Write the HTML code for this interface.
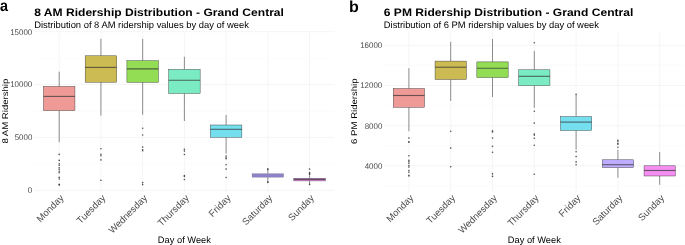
<!DOCTYPE html>
<html><head><meta charset="utf-8"><title>Ridership Distribution</title>
<style>
html,body{margin:0;padding:0;background:#fff;}
body{width:685px;height:245px;overflow:hidden;}
svg{display:block;font-family:"Liberation Sans", sans-serif;will-change:transform;text-rendering:geometricPrecision;}
</style></head><body>
<svg width="685" height="245" viewBox="0 0 685 245">
<rect width="685" height="245" fill="#fff"/>
<line x1="34.2" x2="334.6" y1="163.9" y2="163.9" stroke="#F7F7F7" stroke-width="0.55"/>
<line x1="34.2" x2="334.6" y1="110.95" y2="110.95" stroke="#F7F7F7" stroke-width="0.55"/>
<line x1="34.2" x2="334.6" y1="58.05" y2="58.05" stroke="#F7F7F7" stroke-width="0.55"/>
<line x1="34.2" x2="334.6" y1="190.4" y2="190.4" stroke="#F5F5F5" stroke-width="1.0"/>
<line x1="34.2" x2="334.6" y1="137.4" y2="137.4" stroke="#F5F5F5" stroke-width="1.0"/>
<line x1="34.2" x2="334.6" y1="84.5" y2="84.5" stroke="#F5F5F5" stroke-width="1.0"/>
<line x1="34.2" x2="334.6" y1="31.7" y2="31.7" stroke="#F5F5F5" stroke-width="1.0"/>
<line x1="59.20" x2="59.20" y1="31.4" y2="191.9" stroke="#F5F5F5" stroke-width="1.0"/>
<line x1="100.93" x2="100.93" y1="31.4" y2="191.9" stroke="#F5F5F5" stroke-width="1.0"/>
<line x1="142.66" x2="142.66" y1="31.4" y2="191.9" stroke="#F5F5F5" stroke-width="1.0"/>
<line x1="184.39" x2="184.39" y1="31.4" y2="191.9" stroke="#F5F5F5" stroke-width="1.0"/>
<line x1="226.12" x2="226.12" y1="31.4" y2="191.9" stroke="#F5F5F5" stroke-width="1.0"/>
<line x1="267.85" x2="267.85" y1="31.4" y2="191.9" stroke="#F5F5F5" stroke-width="1.0"/>
<line x1="309.58" x2="309.58" y1="31.4" y2="191.9" stroke="#F5F5F5" stroke-width="1.0"/>
<text transform="translate(32.3,193.30) scale(0.97,1)" text-anchor="end" font-size="8.2" fill="#4D4D4D">0</text>
<text transform="translate(32.3,140.30) scale(0.97,1)" text-anchor="end" font-size="8.2" fill="#4D4D4D">5000</text>
<text transform="translate(32.3,87.40) scale(0.97,1)" text-anchor="end" font-size="8.2" fill="#4D4D4D">10000</text>
<text transform="translate(32.3,34.60) scale(0.97,1)" text-anchor="end" font-size="8.2" fill="#4D4D4D">15000</text>
<line x1="59.20" x2="59.20" y1="71.7" y2="86.4" stroke="#333" stroke-width="0.55"/>
<line x1="59.20" x2="59.20" y1="110.6" y2="142.2" stroke="#333" stroke-width="0.55"/>
<rect x="43.45" y="86.4" width="31.5" height="24.20" fill="#EF9A97" stroke="#333" stroke-width="0.42"/>
<line x1="43.45" x2="74.95" y1="96.4" y2="96.4" stroke="#333" stroke-opacity="0.72" stroke-width="1.1"/>
<circle cx="59.20" cy="154.4" r="0.8" fill="#333" fill-opacity="0.85"/>
<circle cx="59.20" cy="160.4" r="0.8" fill="#333" fill-opacity="0.85"/>
<circle cx="59.20" cy="163.8" r="0.8" fill="#333" fill-opacity="0.85"/>
<circle cx="59.20" cy="165.2" r="0.8" fill="#333" fill-opacity="0.85"/>
<circle cx="59.20" cy="167.8" r="0.8" fill="#333" fill-opacity="0.85"/>
<circle cx="59.20" cy="169.2" r="0.8" fill="#333" fill-opacity="0.85"/>
<circle cx="59.20" cy="171.2" r="0.8" fill="#333" fill-opacity="0.85"/>
<circle cx="59.20" cy="172.8" r="0.8" fill="#333" fill-opacity="0.85"/>
<circle cx="59.20" cy="177.4" r="0.8" fill="#333" fill-opacity="0.85"/>
<circle cx="59.20" cy="179.0" r="0.8" fill="#333" fill-opacity="0.85"/>
<circle cx="59.20" cy="184.4" r="0.8" fill="#333" fill-opacity="0.85"/>
<circle cx="59.20" cy="185.1" r="0.8" fill="#333" fill-opacity="0.85"/>
<line x1="100.93" x2="100.93" y1="38.8" y2="55.8" stroke="#333" stroke-width="0.55"/>
<line x1="100.93" x2="100.93" y1="82.2" y2="115.7" stroke="#333" stroke-width="0.55"/>
<rect x="85.18" y="55.8" width="31.5" height="26.40" fill="#CCBB53" stroke="#333" stroke-width="0.42"/>
<line x1="85.18" x2="116.68" y1="67.4" y2="67.4" stroke="#333" stroke-opacity="0.72" stroke-width="1.1"/>
<circle cx="100.93" cy="148.7" r="0.8" fill="#333" fill-opacity="0.85"/>
<circle cx="100.93" cy="154.3" r="0.8" fill="#333" fill-opacity="0.85"/>
<circle cx="100.93" cy="155.8" r="0.8" fill="#333" fill-opacity="0.85"/>
<circle cx="100.93" cy="159.9" r="0.8" fill="#333" fill-opacity="0.85"/>
<circle cx="100.93" cy="180.2" r="0.8" fill="#333" fill-opacity="0.85"/>
<line x1="142.66" x2="142.66" y1="39.0" y2="60.7" stroke="#333" stroke-width="0.55"/>
<line x1="142.66" x2="142.66" y1="82.3" y2="114.8" stroke="#333" stroke-width="0.55"/>
<rect x="126.91" y="60.7" width="31.5" height="21.60" fill="#92DD53" stroke="#333" stroke-width="0.42"/>
<line x1="126.91" x2="158.41" y1="68.9" y2="68.9" stroke="#333" stroke-opacity="0.72" stroke-width="1.1"/>
<circle cx="142.66" cy="128.3" r="0.8" fill="#333" fill-opacity="0.85"/>
<circle cx="142.66" cy="135.0" r="0.8" fill="#333" fill-opacity="0.85"/>
<circle cx="142.66" cy="147.1" r="0.8" fill="#333" fill-opacity="0.85"/>
<circle cx="142.66" cy="149.8" r="0.8" fill="#333" fill-opacity="0.85"/>
<circle cx="142.66" cy="150.8" r="0.8" fill="#333" fill-opacity="0.85"/>
<circle cx="142.66" cy="182.6" r="0.8" fill="#333" fill-opacity="0.85"/>
<circle cx="142.66" cy="184.6" r="0.8" fill="#333" fill-opacity="0.85"/>
<line x1="184.39" x2="184.39" y1="56.8" y2="69.4" stroke="#333" stroke-width="0.55"/>
<line x1="184.39" x2="184.39" y1="93.4" y2="121.0" stroke="#333" stroke-width="0.55"/>
<rect x="168.64" y="69.4" width="31.5" height="24.00" fill="#7AEBC3" stroke="#333" stroke-width="0.42"/>
<line x1="168.64" x2="200.14" y1="80.3" y2="80.3" stroke="#333" stroke-opacity="0.72" stroke-width="1.1"/>
<circle cx="184.39" cy="149.3" r="0.8" fill="#333" fill-opacity="0.85"/>
<circle cx="184.39" cy="151.1" r="0.8" fill="#333" fill-opacity="0.85"/>
<circle cx="184.39" cy="154.5" r="0.8" fill="#333" fill-opacity="0.85"/>
<circle cx="184.39" cy="175.5" r="0.8" fill="#333" fill-opacity="0.85"/>
<circle cx="184.39" cy="176.5" r="0.8" fill="#333" fill-opacity="0.85"/>
<circle cx="184.39" cy="179.5" r="0.8" fill="#333" fill-opacity="0.85"/>
<line x1="226.12" x2="226.12" y1="115.0" y2="125.0" stroke="#333" stroke-width="0.55"/>
<line x1="226.12" x2="226.12" y1="137.3" y2="153.6" stroke="#333" stroke-width="0.55"/>
<rect x="210.37" y="125.0" width="31.5" height="12.30" fill="#75DFF0" stroke="#333" stroke-width="0.42"/>
<line x1="210.37" x2="241.87" y1="129.3" y2="129.3" stroke="#333" stroke-opacity="0.72" stroke-width="1.1"/>
<circle cx="226.12" cy="156.1" r="0.8" fill="#333" fill-opacity="0.85"/>
<circle cx="226.12" cy="157.8" r="0.8" fill="#333" fill-opacity="0.85"/>
<circle cx="226.12" cy="158.8" r="0.8" fill="#333" fill-opacity="0.85"/>
<circle cx="226.12" cy="164.7" r="0.8" fill="#333" fill-opacity="0.85"/>
<circle cx="226.12" cy="169.1" r="0.8" fill="#333" fill-opacity="0.85"/>
<circle cx="226.12" cy="177.5" r="0.8" fill="#333" fill-opacity="0.85"/>
<line x1="267.85" x2="267.85" y1="170.3" y2="173.7" stroke="#333" stroke-width="0.55"/>
<line x1="267.85" x2="267.85" y1="177.2" y2="180.9" stroke="#333" stroke-width="0.55"/>
<rect x="252.10" y="173.7" width="31.5" height="3.50" fill="#8E83C9" stroke="#333" stroke-opacity="0.45" stroke-width="0.42"/>
<circle cx="267.85" cy="168.9" r="0.8" fill="#333" fill-opacity="0.85"/>
<circle cx="267.85" cy="169.6" r="0.8" fill="#333" fill-opacity="0.85"/>
<circle cx="267.85" cy="181.7" r="0.8" fill="#333" fill-opacity="0.85"/>
<circle cx="267.85" cy="182.4" r="0.8" fill="#333" fill-opacity="0.85"/>
<line x1="309.58" x2="309.58" y1="175.5" y2="178.3" stroke="#333" stroke-width="0.55"/>
<line x1="309.58" x2="309.58" y1="180.9" y2="184.4" stroke="#333" stroke-width="0.55"/>
<rect x="293.83" y="178.3" width="31.5" height="2.60" fill="#F48EF0" stroke="#333" stroke-width="0.42"/>
<line x1="293.83" x2="325.33" y1="179.4" y2="179.4" stroke="#333" stroke-opacity="0.72" stroke-width="1.1"/>
<circle cx="309.58" cy="169.1" r="0.8" fill="#333" fill-opacity="0.85"/>
<circle cx="309.58" cy="172.6" r="0.8" fill="#333" fill-opacity="0.85"/>
<circle cx="309.58" cy="173.6" r="0.8" fill="#333" fill-opacity="0.85"/>
<circle cx="309.58" cy="174.6" r="0.8" fill="#333" fill-opacity="0.85"/>
<circle cx="309.58" cy="184.4" r="0.8" fill="#333" fill-opacity="0.85"/>
<text transform="translate(59.30,193.70) rotate(-45)" text-anchor="end" font-size="9.5" fill="#4D4D4D" dy="0.75em">Monday</text>
<text transform="translate(101.03,193.70) rotate(-45)" text-anchor="end" font-size="9.5" fill="#4D4D4D" dy="0.75em">Tuesday</text>
<text transform="translate(142.76,193.70) rotate(-45)" text-anchor="end" font-size="9.5" fill="#4D4D4D" dy="0.75em">Wednesday</text>
<text transform="translate(184.49,193.70) rotate(-45)" text-anchor="end" font-size="9.5" fill="#4D4D4D" dy="0.75em">Thursday</text>
<text transform="translate(226.22,193.70) rotate(-45)" text-anchor="end" font-size="9.5" fill="#4D4D4D" dy="0.75em">Friday</text>
<text transform="translate(267.95,193.70) rotate(-45)" text-anchor="end" font-size="9.5" fill="#4D4D4D" dy="0.75em">Saturday</text>
<text transform="translate(309.68,193.70) rotate(-45)" text-anchor="end" font-size="9.5" fill="#4D4D4D" dy="0.75em">Sunday</text>
<text x="184.40" y="243.2" text-anchor="middle" font-size="9.3" fill="#000">Day of Week</text>
<text transform="translate(7.8,111.15) rotate(-90) scale(1.03,0.89)" text-anchor="middle" font-size="9.3" fill="#000">8 AM Ridership</text>
<text transform="translate(0.0,11.4) scale(0.9,1)" font-size="16.0" font-weight="bold" fill="#000">a</text>
<text transform="translate(34.20,16.3) scale(1.006,0.9)" font-size="12.0" font-weight="bold" fill="#000">8 AM Ridership Distribution - Grand Central</text>
<text x="34.20" y="27.6" font-size="9.38" fill="#000">Distribution of 8 AM ridership values by day of week</text>
<line x1="383.8" x2="684.8" y1="186.0" y2="186.0" stroke="#F7F7F7" stroke-width="0.55"/>
<line x1="383.8" x2="684.8" y1="145.8" y2="145.8" stroke="#F7F7F7" stroke-width="0.55"/>
<line x1="383.8" x2="684.8" y1="105.6" y2="105.6" stroke="#F7F7F7" stroke-width="0.55"/>
<line x1="383.8" x2="684.8" y1="65.4" y2="65.4" stroke="#F7F7F7" stroke-width="0.55"/>
<line x1="383.8" x2="684.8" y1="165.9" y2="165.9" stroke="#F5F5F5" stroke-width="1.0"/>
<line x1="383.8" x2="684.8" y1="125.7" y2="125.7" stroke="#F5F5F5" stroke-width="1.0"/>
<line x1="383.8" x2="684.8" y1="85.5" y2="85.5" stroke="#F5F5F5" stroke-width="1.0"/>
<line x1="383.8" x2="684.8" y1="45.3" y2="45.3" stroke="#F5F5F5" stroke-width="1.0"/>
<line x1="408.90" x2="408.90" y1="31.4" y2="191.9" stroke="#F5F5F5" stroke-width="1.0"/>
<line x1="450.70" x2="450.70" y1="31.4" y2="191.9" stroke="#F5F5F5" stroke-width="1.0"/>
<line x1="492.50" x2="492.50" y1="31.4" y2="191.9" stroke="#F5F5F5" stroke-width="1.0"/>
<line x1="534.30" x2="534.30" y1="31.4" y2="191.9" stroke="#F5F5F5" stroke-width="1.0"/>
<line x1="576.10" x2="576.10" y1="31.4" y2="191.9" stroke="#F5F5F5" stroke-width="1.0"/>
<line x1="617.90" x2="617.90" y1="31.4" y2="191.9" stroke="#F5F5F5" stroke-width="1.0"/>
<line x1="659.70" x2="659.70" y1="31.4" y2="191.9" stroke="#F5F5F5" stroke-width="1.0"/>
<text transform="translate(382.3,168.80) scale(0.97,1)" text-anchor="end" font-size="8.2" fill="#4D4D4D">4000</text>
<text transform="translate(382.3,128.60) scale(0.97,1)" text-anchor="end" font-size="8.2" fill="#4D4D4D">8000</text>
<text transform="translate(382.3,88.40) scale(0.97,1)" text-anchor="end" font-size="8.2" fill="#4D4D4D">12000</text>
<text transform="translate(382.3,48.20) scale(0.97,1)" text-anchor="end" font-size="8.2" fill="#4D4D4D">16000</text>
<line x1="408.90" x2="408.90" y1="68.2" y2="88.5" stroke="#333" stroke-width="0.55"/>
<line x1="408.90" x2="408.90" y1="107.3" y2="131.2" stroke="#333" stroke-width="0.55"/>
<rect x="393.25" y="88.5" width="31.3" height="18.80" fill="#EF9A97" stroke="#333" stroke-width="0.42"/>
<line x1="393.25" x2="424.55" y1="95.5" y2="95.5" stroke="#333" stroke-opacity="0.72" stroke-width="1.1"/>
<circle cx="408.90" cy="138.1" r="0.8" fill="#333" fill-opacity="0.85"/>
<circle cx="408.90" cy="141.7" r="0.8" fill="#333" fill-opacity="0.85"/>
<circle cx="408.90" cy="142.2" r="0.8" fill="#333" fill-opacity="0.85"/>
<circle cx="408.90" cy="155.7" r="0.8" fill="#333" fill-opacity="0.85"/>
<circle cx="408.90" cy="160.4" r="0.8" fill="#333" fill-opacity="0.85"/>
<circle cx="408.90" cy="161.8" r="0.8" fill="#333" fill-opacity="0.85"/>
<circle cx="408.90" cy="163.2" r="0.8" fill="#333" fill-opacity="0.85"/>
<circle cx="408.90" cy="165.6" r="0.8" fill="#333" fill-opacity="0.85"/>
<circle cx="408.90" cy="167.1" r="0.8" fill="#333" fill-opacity="0.85"/>
<circle cx="408.90" cy="170.6" r="0.8" fill="#333" fill-opacity="0.85"/>
<circle cx="408.90" cy="172.3" r="0.8" fill="#333" fill-opacity="0.85"/>
<circle cx="408.90" cy="175.3" r="0.8" fill="#333" fill-opacity="0.85"/>
<circle cx="408.90" cy="176.0" r="0.8" fill="#333" fill-opacity="0.85"/>
<line x1="450.70" x2="450.70" y1="41.8" y2="61.1" stroke="#333" stroke-width="0.55"/>
<line x1="450.70" x2="450.70" y1="79.5" y2="101.0" stroke="#333" stroke-width="0.55"/>
<rect x="435.05" y="61.1" width="31.3" height="18.40" fill="#CCBB53" stroke="#333" stroke-width="0.42"/>
<line x1="435.05" x2="466.35" y1="67.2" y2="67.2" stroke="#333" stroke-opacity="0.72" stroke-width="1.1"/>
<circle cx="450.70" cy="131.3" r="0.8" fill="#333" fill-opacity="0.85"/>
<circle cx="450.70" cy="148.1" r="0.8" fill="#333" fill-opacity="0.85"/>
<circle cx="450.70" cy="166.7" r="0.8" fill="#333" fill-opacity="0.85"/>
<line x1="492.50" x2="492.50" y1="39.0" y2="61.9" stroke="#333" stroke-width="0.55"/>
<line x1="492.50" x2="492.50" y1="77.5" y2="97.0" stroke="#333" stroke-width="0.55"/>
<rect x="476.85" y="61.9" width="31.3" height="15.60" fill="#92DD53" stroke="#333" stroke-width="0.42"/>
<line x1="476.85" x2="508.15" y1="68.2" y2="68.2" stroke="#333" stroke-opacity="0.72" stroke-width="1.1"/>
<circle cx="492.50" cy="130.9" r="0.8" fill="#333" fill-opacity="0.85"/>
<circle cx="492.50" cy="132.0" r="0.8" fill="#333" fill-opacity="0.85"/>
<circle cx="492.50" cy="138.0" r="0.8" fill="#333" fill-opacity="0.85"/>
<circle cx="492.50" cy="146.2" r="0.8" fill="#333" fill-opacity="0.85"/>
<circle cx="492.50" cy="152.3" r="0.8" fill="#333" fill-opacity="0.85"/>
<circle cx="492.50" cy="173.9" r="0.8" fill="#333" fill-opacity="0.85"/>
<circle cx="492.50" cy="176.4" r="0.8" fill="#333" fill-opacity="0.85"/>
<line x1="534.30" x2="534.30" y1="50.9" y2="69.8" stroke="#333" stroke-width="0.55"/>
<line x1="534.30" x2="534.30" y1="85.6" y2="107.9" stroke="#333" stroke-width="0.55"/>
<rect x="518.65" y="69.8" width="31.3" height="15.80" fill="#7AEBC3" stroke="#333" stroke-width="0.42"/>
<line x1="518.65" x2="549.95" y1="76.3" y2="76.3" stroke="#333" stroke-opacity="0.72" stroke-width="1.1"/>
<circle cx="534.30" cy="42.7" r="0.8" fill="#333" fill-opacity="0.85"/>
<circle cx="534.30" cy="111.2" r="0.8" fill="#333" fill-opacity="0.85"/>
<circle cx="534.30" cy="123.1" r="0.8" fill="#333" fill-opacity="0.85"/>
<circle cx="534.30" cy="134.1" r="0.8" fill="#333" fill-opacity="0.85"/>
<circle cx="534.30" cy="135.1" r="0.8" fill="#333" fill-opacity="0.85"/>
<circle cx="534.30" cy="138.2" r="0.8" fill="#333" fill-opacity="0.85"/>
<circle cx="534.30" cy="145.3" r="0.8" fill="#333" fill-opacity="0.85"/>
<circle cx="534.30" cy="174.3" r="0.8" fill="#333" fill-opacity="0.85"/>
<line x1="576.10" x2="576.10" y1="94.5" y2="116.6" stroke="#333" stroke-width="0.55"/>
<line x1="576.10" x2="576.10" y1="130.5" y2="149.7" stroke="#333" stroke-width="0.55"/>
<rect x="560.45" y="116.6" width="31.3" height="13.90" fill="#75DFF0" stroke="#333" stroke-width="0.42"/>
<line x1="560.45" x2="591.75" y1="122.1" y2="122.1" stroke="#333" stroke-opacity="0.72" stroke-width="1.1"/>
<circle cx="576.10" cy="94.2" r="0.8" fill="#333" fill-opacity="0.85"/>
<circle cx="576.10" cy="151.7" r="0.8" fill="#333" fill-opacity="0.85"/>
<circle cx="576.10" cy="156.6" r="0.8" fill="#333" fill-opacity="0.85"/>
<circle cx="576.10" cy="161.9" r="0.8" fill="#333" fill-opacity="0.85"/>
<circle cx="576.10" cy="164.7" r="0.8" fill="#333" fill-opacity="0.85"/>
<line x1="617.90" x2="617.90" y1="149.7" y2="159.8" stroke="#333" stroke-width="0.55"/>
<line x1="617.90" x2="617.90" y1="167.6" y2="177.8" stroke="#333" stroke-width="0.55"/>
<rect x="602.25" y="159.8" width="31.3" height="7.80" fill="#BEADFE" stroke="#333" stroke-width="0.42"/>
<line x1="602.25" x2="633.55" y1="164.7" y2="164.7" stroke="#333" stroke-opacity="0.72" stroke-width="1.1"/>
<circle cx="617.90" cy="140.3" r="0.8" fill="#333" fill-opacity="0.85"/>
<circle cx="617.90" cy="141.3" r="0.8" fill="#333" fill-opacity="0.85"/>
<circle cx="617.90" cy="143.4" r="0.8" fill="#333" fill-opacity="0.85"/>
<circle cx="617.90" cy="144.3" r="0.8" fill="#333" fill-opacity="0.85"/>
<circle cx="617.90" cy="147.2" r="0.8" fill="#333" fill-opacity="0.85"/>
<line x1="659.70" x2="659.70" y1="152.1" y2="165.8" stroke="#333" stroke-width="0.55"/>
<line x1="659.70" x2="659.70" y1="176.0" y2="184.8" stroke="#333" stroke-width="0.55"/>
<rect x="644.05" y="165.8" width="31.3" height="10.20" fill="#F48EF0" stroke="#333" stroke-width="0.42"/>
<line x1="644.05" x2="675.35" y1="170.5" y2="170.5" stroke="#333" stroke-opacity="0.72" stroke-width="1.1"/>
<text transform="translate(409.00,193.70) rotate(-45)" text-anchor="end" font-size="9.5" fill="#4D4D4D" dy="0.75em">Monday</text>
<text transform="translate(450.80,193.70) rotate(-45)" text-anchor="end" font-size="9.5" fill="#4D4D4D" dy="0.75em">Tuesday</text>
<text transform="translate(492.60,193.70) rotate(-45)" text-anchor="end" font-size="9.5" fill="#4D4D4D" dy="0.75em">Wednesday</text>
<text transform="translate(534.40,193.70) rotate(-45)" text-anchor="end" font-size="9.5" fill="#4D4D4D" dy="0.75em">Thursday</text>
<text transform="translate(576.20,193.70) rotate(-45)" text-anchor="end" font-size="9.5" fill="#4D4D4D" dy="0.75em">Friday</text>
<text transform="translate(618.00,193.70) rotate(-45)" text-anchor="end" font-size="9.5" fill="#4D4D4D" dy="0.75em">Saturday</text>
<text transform="translate(659.80,193.70) rotate(-45)" text-anchor="end" font-size="9.5" fill="#4D4D4D" dy="0.75em">Sunday</text>
<text x="534.30" y="243.2" text-anchor="middle" font-size="9.3" fill="#000">Day of Week</text>
<text transform="translate(357.3,111.15) rotate(-90) scale(1.03,0.89)" text-anchor="middle" font-size="9.3" fill="#000">6 PM Ridership</text>
<text transform="translate(349.0,11.8) scale(1.0,1)" font-size="16.0" font-weight="bold" fill="#000">b</text>
<text transform="translate(383.80,16.3) scale(1.006,0.9)" font-size="12.0" font-weight="bold" fill="#000">6 PM Ridership Distribution - Grand Central</text>
<text x="383.80" y="27.6" font-size="9.38" fill="#000">Distribution of 6 PM ridership values by day of week</text>
</svg>
</body></html>
